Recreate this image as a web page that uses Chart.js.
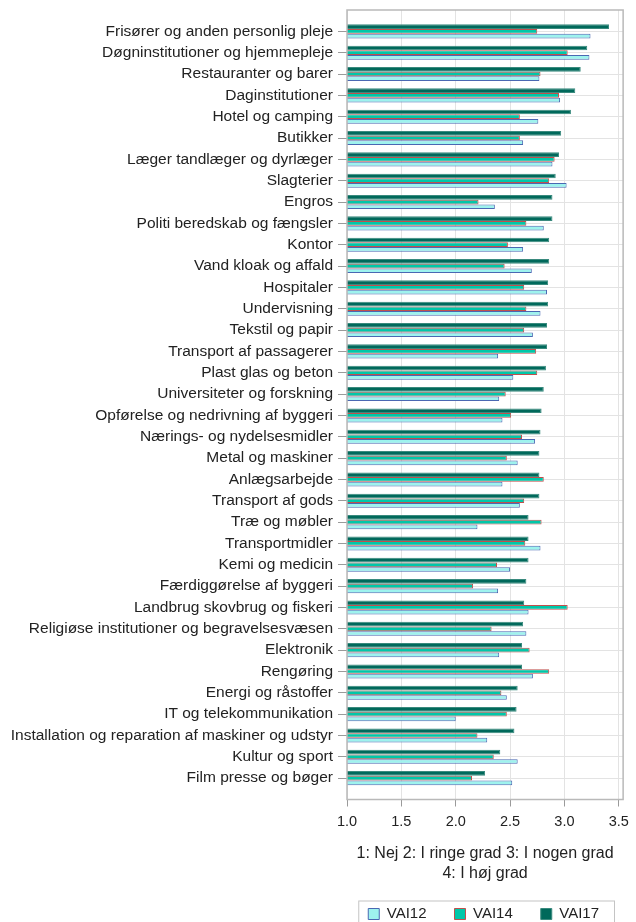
<!DOCTYPE html>
<html>
<head>
<meta charset="utf-8">
<script src="https://cdn.jsdelivr.net/npm/chart.js@4"></script>
<style>
html, body { margin: 0; padding: 0; background: #fff; }
</style>
</head>
<body>
<canvas id="vaiChart" width="636" height="922"></canvas>
<script>
// === DATA ===
const categories = [
    "Frisører og anden personlig pleje",
    "Døgninstitutioner og hjemmepleje",
    "Restauranter og barer",
    "Daginstitutioner",
    "Hotel og camping",
    "Butikker",
    "Læger tandlæger og dyrlæger",
    "Slagterier",
    "Engros",
    "Politi beredskab og fængsler",
    "Kontor",
    "Vand kloak og affald",
    "Hospitaler",
    "Undervisning",
    "Tekstil og papir",
    "Transport af passagerer",
    "Plast glas og beton",
    "Universiteter og forskning",
    "Opførelse og nedrivning af byggeri",
    "Nærings- og nydelsesmidler",
    "Metal og maskiner",
    "Anlægsarbejde",
    "Transport af gods",
    "Træ og møbler",
    "Transportmidler",
    "Kemi og medicin",
    "Færdiggørelse af byggeri",
    "Landbrug skovbrug og fiskeri",
    "Religiøse institutioner og begravelsesvæsen",
    "Elektronik",
    "Rengøring",
    "Energi og råstoffer",
    "IT og telekommunikation",
    "Installation og reparation af maskiner og udstyr",
    "Kultur og sport",
    "Film presse og bøger"
];

const vai12 = [3.24, 3.23, 2.77, 2.96, 2.76, 2.62, 2.89, 3.02, 2.36, 2.81, 2.62, 2.70,
               2.84, 2.78, 2.71, 2.39, 2.53, 2.40, 2.43, 2.73, 2.57, 2.43, 2.59, 2.20,
               2.78, 2.50, 2.39, 2.67, 2.65, 2.40, 2.71, 2.47, 2.00, 2.29, 2.57, 2.52];

const vai14 = [2.75, 3.03, 2.78, 2.95, 2.59, 2.59, 2.91, 2.86, 2.21, 2.65, 2.48, 2.45,
               2.63, 2.65, 2.63, 2.74, 2.75, 2.46, 2.51, 2.61, 2.47, 2.81, 2.63, 2.79,
               2.64, 2.38, 2.16, 3.03, 2.33, 2.68, 2.86, 2.42, 2.47, 2.20, 2.35, 2.15];

const vai17 = [3.41, 3.21, 3.15, 3.10, 3.06, 2.97, 2.95, 2.92, 2.89, 2.89, 2.86, 2.86,
               2.85, 2.85, 2.84, 2.84, 2.83, 2.81, 2.79, 2.78, 2.77, 2.77, 2.77, 2.67,
               2.67, 2.67, 2.65, 2.63, 2.62, 2.61, 2.61, 2.57, 2.56, 2.54, 2.41, 2.27];

const xTicks = [1.0, 1.5, 2.0, 2.5, 3.0, 3.5];
const axisTitle = ["1: Nej 2: I ringe grad 3: I nogen grad", "4: I høj grad"];

// empty slot at both ends gives the extra space above the first and below the last row
const padded = arr => [null, ...arr, null];

const FONT = "'Liberation Sans', Arial, sans-serif";
const TEXT = "#222";
const GRID = "#e3e3e3";
const TICK = "#9a9a9a";

// plot frame + box round the legend
const framePlugin = {
    id: "frame",
    afterDraw(chart) {
        const { ctx, chartArea: a, legend } = chart;
        ctx.save();
        ctx.strokeStyle = "#b9b9b9";
        ctx.lineWidth = 1.5;
        ctx.strokeRect(a.left, a.top, a.right - a.left, a.bottom - a.top);

        const hb = legend.legendHitBoxes;
        if (hb && hb.length) {
            const first = hb[0], last = hb[hb.length - 1];
            const left = first.left - 10;
            const right = last.left + last.width + 15;
            const top = first.top - 6;
            ctx.strokeStyle = "#c4c4c4";
            ctx.lineWidth = 1;
            ctx.strokeRect(left + 0.5, top + 0.5, right - left, 40);
        }
        ctx.restore();
    }
};

function createChart() {
    const ctx = document.getElementById("vaiChart").getContext("2d");

    new Chart(ctx, {
        type: "bar",
        data: {
            labels: ["", ...categories, ""],
            datasets: [
                {
                    label: "VAI17",
                    data: padded(vai17),
                    backgroundColor: "#00695b",
                    borderColor: "#3a8a7e",
                    borderWidth: 1
                },
                {
                    label: "VAI14",
                    data: padded(vai14),
                    backgroundColor: "#00c7a9",
                    borderColor: "#c0504d",
                    borderWidth: 1
                },
                {
                    label: "VAI12",
                    data: padded(vai12),
                    backgroundColor: "#9ef3ee",
                    borderColor: "#4a68b2",
                    borderWidth: 1
                }
            ]
        },
        options: {
            indexAxis: "y",
            responsive: false,
            animation: false,
            devicePixelRatio: 1,
            datasets: {
                bar: { categoryPercentage: 0.66, barPercentage: 1.0 }
            },
            layout: {
                padding: { top: 10, right: 9, left: 0, bottom: -9.5 }
            },
            scales: {
                x: {
                    min: 1.0,
                    max: 3.54,
                    afterBuildTicks: s => { s.ticks = xTicks.map(v => ({ value: v })); },
                    afterFit: s => { s.height = 79; },
                    border: { display: false },
                    grid: {
                        color: GRID,
                        lineWidth: 1,
                        tickColor: TICK,
                        tickLength: 7
                    },
                    ticks: {
                        color: TEXT,
                        padding: 7,
                        font: { family: FONT, size: 14.5 },
                        callback: v => Number(v).toFixed(1)
                    },
                    title: {
                        display: true,
                        text: axisTitle,
                        color: TEXT,
                        font: { family: FONT, size: 16, lineHeight: 1.25 },
                        padding: { top: 0, bottom: -5 }
                    }
                },
                y: {
                    offset: false,
                    afterFit: s => { s.width = 347; s.paddingTop = 0; s.paddingBottom = 0; },
                    border: { display: false },
                    grid: {
                        offset: false,
                        color: ctx => (ctx.index === 0 || ctx.index === categories.length + 1) ? "transparent" : GRID,
                        tickColor: ctx => (ctx.index === 0 || ctx.index === categories.length + 1) ? "transparent" : TICK,
                        tickLength: 9
                    },
                    ticks: {
                        color: TEXT,
                        padding: 5,
                        autoSkip: false,
                        font: { family: FONT, size: 15.5 }
                    }
                }
            },
            plugins: {
                legend: {
                    position: "bottom",
                    align: "end",
                    reverse: true,
                    labels: {
                        color: TEXT,
                        boxWidth: 11,
                        boxHeight: 11,
                        padding: 28,
                        font: { family: FONT, size: 15 }
                    }
                },
                tooltip: { enabled: false }
            }
        },
        plugins: [framePlugin]
    });
}

document.addEventListener("DOMContentLoaded", createChart);
</script>
</body>
</html>
